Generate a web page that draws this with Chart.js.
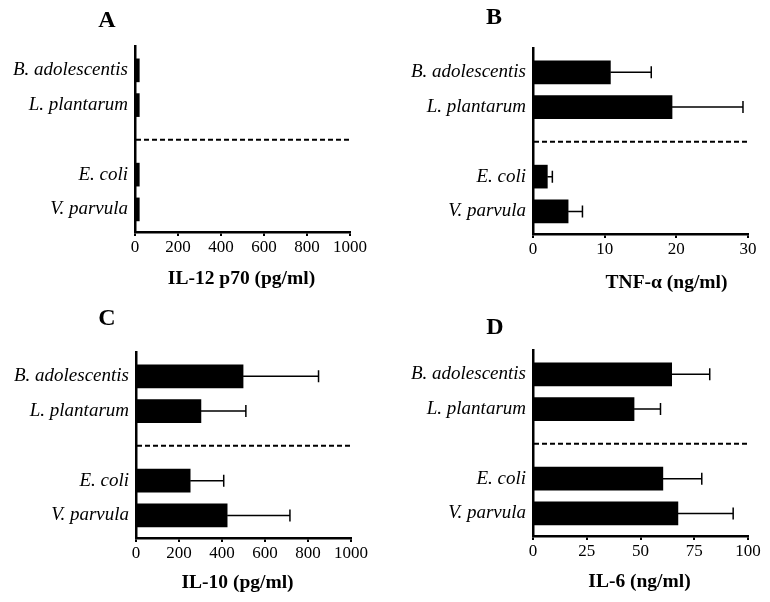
<!DOCTYPE html>
<html>
<head>
  <title>Cytokine panels</title>
  <script src="https://cdn.jsdelivr.net/npm/chart.js"></script>
  <style>
    body { margin: 0; background: #fff; overflow: hidden; }
    #wrap { position: relative; width: 770px; height: 602px; }
    canvas { position: absolute; }
  </style>
</head>
<body>
  <div id="wrap">
    <canvas id="chartA" width="372" height="301" style="left:0px;top:0px"></canvas>
    <canvas id="chartB" width="372" height="301" style="left:398px;top:2px"></canvas>
    <canvas id="chartC" width="372" height="301" style="left:1px;top:306px"></canvas>
    <canvas id="chartD" width="372" height="301" style="left:398px;top:304px"></canvas>
  </div>
  <script>
    // strains, top to bottom (probiotic pair, dashed line, then the other pair)
    const categories = ['B. adolescentis', 'L. plantarum', 'E. coli', 'V. parvula'];
    const slots = [1, 2, 4, 5];   // row 3 is left empty for the dashed separator

    const il12 = [20, 20, 20, 20];
    const il12Err = [0, 0, 0, 0];
    const tnf = [10.8, 19.4, 2.0, 4.9];
    const tnfErr = [5.7, 9.9, 0.7, 2.0];
    const il10 = [498, 302, 252, 424];
    const il10Err = [351, 209, 156, 292];
    const il6 = [64.5, 47.0, 60.4, 67.4];
    const il6Err = [17.7, 12.3, 18.1, 25.7];

    const serif = 'Liberation Serif';

    const panelText = {
      id: 'panelText',
      afterDraw(chart, args, opts) {
        const { ctx, chartArea } = chart;
        ctx.save();
        ctx.fillStyle = '#000';
        ctx.textAlign = 'center';
        ctx.textBaseline = 'middle';
        ctx.font = 'bold 24px ' + serif;
        ctx.fillText(opts.letter, chartArea.left - opts.letterDx, opts.letterY);
        ctx.font = 'bold 19.5px ' + serif;
        ctx.fillText(opts.title, (chartArea.left + chartArea.right) / 2 + opts.titleDx, opts.titleY);
        ctx.restore();
      }
    };

    const separator = {
      id: 'separator',
      afterDatasetsDraw(chart) {
        const { ctx, chartArea } = chart;
        const y = chart.scales.y.getPixelForValue(3);
        ctx.save();
        ctx.strokeStyle = '#000';
        ctx.lineWidth = 2;
        ctx.setLineDash([5, 3]);
        ctx.beginPath();
        ctx.moveTo(chartArea.left + 1, y);
        ctx.lineTo(chartArea.right, y);
        ctx.stroke();
        ctx.restore();
      }
    };

    const errorBars = {
      id: 'errorBars',
      afterDatasetsDraw(chart) {
        const { ctx } = chart;
        const xs = chart.scales.x;
        const ds = chart.data.datasets[0];
        const meta = chart.getDatasetMeta(0);
        ctx.save();
        ctx.strokeStyle = '#000';
        ctx.lineWidth = 1.5;
        meta.data.forEach((bar, i) => {
          const e = ds.err[i];
          if (!e) return;
          const x1 = xs.getPixelForValue(ds.data[i].x + e);
          ctx.beginPath();
          ctx.moveTo(bar.x, bar.y);
          ctx.lineTo(x1, bar.y);
          ctx.moveTo(x1, bar.y - 6);
          ctx.lineTo(x1, bar.y + 6);
          ctx.stroke();
        });
        ctx.restore();
      }
    };

    function makePanel(id, values, errs, xMax, step, letter, title, t) {
      new Chart(document.getElementById(id), {
        type: 'bar',
        data: {
          datasets: [{
            data: values.map((v, i) => ({ x: v, y: slots[i] })),
            err: errs,
            backgroundColor: '#000',
            barThickness: 23
          }]
        },
        options: {
          indexAxis: 'y',
          responsive: false,
          animation: false,
          layout: { padding: { left: 0, top: 46, right: 22, bottom: 0 } },
          plugins: {
            legend: { display: false },
            tooltip: { enabled: false },
            panelText: { letter: letter, title: title, letterDx: t.letterDx, letterY: t.letterY, titleDx: t.titleDx, titleY: t.titleY }
          },
          scales: {
            x: {
              type: 'linear',
              min: 0,
              max: xMax,
              ticks: {
                stepSize: step,
                color: '#000',
                padding: 1,
                maxRotation: 0,
                autoSkip: false,
                font: { family: serif, size: 17 },
                callback: v => String(v)
              },
              grid: { display: true, drawOnChartArea: false, drawTicks: true, tickLength: 4, color: '#000', lineWidth: 2 },
              border: { display: true, color: '#000', width: 2.5 },
              afterFit: s => { s.height = 69; }
            },
            y: {
              type: 'linear',
              reverse: true,
              offset: false,
              min: 0.3,
              max: 5.65,
              afterBuildTicks: s => { s.ticks = slots.map(v => ({ value: v })); },
              ticks: {
                color: '#000',
                padding: 7,
                font: { family: serif, size: 19, style: 'italic' },
                callback: (v, i) => categories[i]
              },
              grid: { display: false, drawTicks: false, offset: false },
              border: { display: true, color: '#000', width: 2.5 },
              afterFit: s => { s.width = 135; }
            }
          }
        },
        plugins: [panelText, separator, errorBars]
      });
    }

    makePanel('chartA', il12, il12Err, 1000, 200, 'A', 'IL-12 p70 (pg/ml)', { letterDx: 28, letterY: 21, titleDx: -1, titleY: 279 });
    makePanel('chartB', tnf, tnfErr, 30, 10, 'B', 'TNF-\u03b1 (ng/ml)', { letterDx: 39, letterY: 16, titleDx: 26, titleY: 281 });
    makePanel('chartC', il10, il10Err, 1000, 200, 'C', 'IL-10 (pg/ml)', { letterDx: 29, letterY: 13, titleDx: -6, titleY: 277 });
    makePanel('chartD', il6, il6Err, 100, 25, 'D', 'IL-6 (ng/ml)', { letterDx: 38, letterY: 24, titleDx: -1, titleY: 278 });
  </script>
</body>
</html>
